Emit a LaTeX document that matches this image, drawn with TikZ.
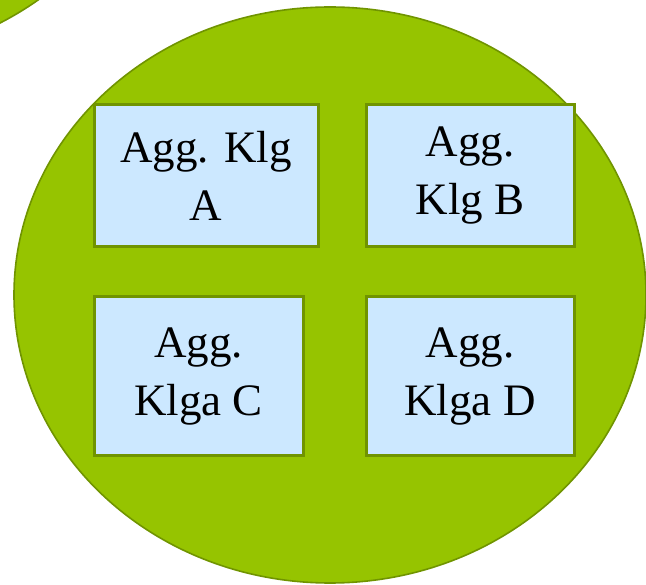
\documentclass[tikz,border=0pt]{standalone}
\usepackage{fontspec}
\setmainfont{Liberation Serif}
\definecolor{leaf}{RGB}{150,196,0}
\definecolor{leafdark}{RGB}{112,148,0}
\definecolor{paleblue}{RGB}{204,232,255}
\tikzset{
  circ/.style={fill=leaf, draw=leafdark, line width=1.6pt},
  aggbox/.style={draw=leafdark, fill=paleblue, line width=3pt, inner sep=0pt,
    align=center, font=\fontsize{45}{58}\selectfont}
}
\begin{document}
\begin{tikzpicture}[x=1pt,y=-1pt]
  % cadre
  \useasboundingbox (0,0) rectangle (646,585);
  \clip (0,0) rectangle (646,585);
  % cercle voisin (coin haut gauche)
  \draw[circ] (-155,-228) ellipse [x radius=316, y radius=288];
  % grand cercle
  \draw[circ] (330,295) ellipse [x radius=316, y radius=288];
  % agregats
  \node[aggbox, minimum width=224pt, minimum height=142pt] (klgA) at (206,176)
      {Agg. Klg\\A};
  \node[aggbox, minimum width=208pt, minimum height=142pt] (klgB) at (470,176)
      {Agg.\\Klg B};
  \node[aggbox, minimum width=209pt, minimum height=159pt] (klgC) at (198.5,376.5)
      {Agg.\\Klga C};
  \node[aggbox, minimum width=208pt, minimum height=159pt] (klgD) at (470,376.5)
      {Agg.\\Klga D};
\end{tikzpicture}
\end{document}
